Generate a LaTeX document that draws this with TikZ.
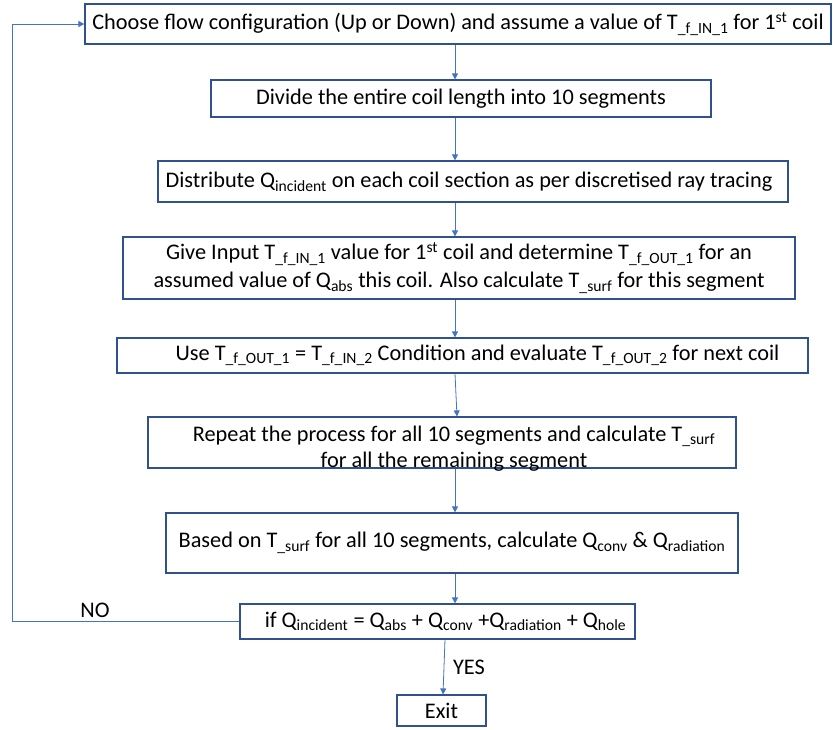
\documentclass[tikz,border=0pt]{standalone}
\usepackage{fontspec}
\setmainfont{Carlito}
\usetikzlibrary{arrows.meta}
\definecolor{boxblue}{HTML}{2F528F}
\definecolor{arrblue}{HTML}{4472C4}
\newcommand{\sub}[1]{\textsubscript{#1}}
\tikzset{
  procbox/.style={draw=boxblue, line width=1.2pt, rectangle, inner sep=0pt, align=center, font=\fontsize{22.3}{28}\selectfont},
  arr/.style={draw=arrblue, line width=0.8pt, -{Triangle[length=6pt,width=6pt]}},
  lbl/.style={font=\fontsize{22.3}{26}\selectfont, inner sep=0pt}
}
\begin{document}
\begin{tikzpicture}[x=1pt,y=-1pt]
\useasboundingbox (0,0) rectangle (833,729);
\node[procbox, minimum width=746pt, minimum height=40pt] (b1) at (458,24)
  {Choose flow configuration (Up or Down) and assume a value of T\sub{\_f\_IN\_1} for 1\textsuperscript{st} coil};
\node[procbox, minimum width=500pt, minimum height=37pt] (b2) at (461,98.5)
  {Divide the entire coil length into 10 segments};
\node[procbox, minimum width=630pt, minimum height=41pt] (b3) at (473,181.5)
  {Distribute Q\sub{incident} on each coil section as per discretised ray tracing\hspace{8pt}};
\node[procbox, minimum width=672pt, minimum height=62pt] (b4) at (459,268)
  {Give Input T\sub{\_f\_IN\_1} value for 1\textsuperscript{st} coil and determine T\sub{\_f\_OUT\_1} for an\\
   assumed value of Q\sub{abs} this coil. Also calculate T\sub{\_surf} for this segment};
\node[procbox, minimum width=691pt, minimum height=35pt] (b5) at (462.5,355.5)
  {\hspace{30pt}Use T\sub{\_f\_OUT\_1} = T\sub{\_f\_IN\_2} Condition and evaluate T\sub{\_f\_OUT\_2} for next coil};
\node[procbox, minimum width=588pt, minimum height=51pt,
  label={[lbl, align=center, yshift=-6pt, xshift=12pt, font=\fontsize{22.3}{26}\selectfont]center:Repeat the process for all 10 segments and calculate T\sub{\_surf}\\for all the remaining segment}] (b6) at (442,442.5) {};
\node[procbox, minimum width=572pt, minimum height=60pt] (b7) at (452,543)
  {Based on T\sub{\_surf} for all 10 segments, calculate Q\sub{conv} \& Q\sub{radiation}};
\node[procbox, minimum width=395pt, minimum height=35pt] (b8) at (437.5,621.5)
  {\hspace{16pt}if Q\sub{incident} = Q\sub{abs} + Q\sub{conv} +Q\sub{radiation} + Q\sub{hole}};
\node[procbox, minimum width=89pt, minimum height=31pt] (ex) at (441.5,710.5) {Exit};

\coordinate (xs) at (455,0);
\draw[arr] (b1.south -| xs) -- (b2.north -| xs);
\draw[arr] (b2.south -| xs) -- (b3.north -| xs);
\draw[arr] (b3.south -| xs) -- (b4.north -| xs);
\draw[arr] (b4.south -| xs) -- (b5.north -| xs);
\draw[arr] (b5.south -| xs) -- ([xshift=2pt]b6.north -| xs);
\draw[arr] (b6.south -| xs) -- (b7.north -| xs);
\draw[arr] (b7.south -| xs) -- (b8.north -| xs);
\coordinate (ys) at (445,0);
\draw[arr] (b8.south -| ys) -- ([xshift=-2pt]ex.north -| ys);
\coordinate (lx) at (12,0);
\draw[arr] (b8.west) -- (b8.west -| lx) -- (b1.west -| lx) -- (b1.west);
\node[lbl] (no) at (95,610) {NO};
\node[lbl] (yes) at (469,667) {YES};
\end{tikzpicture}
\end{document}
